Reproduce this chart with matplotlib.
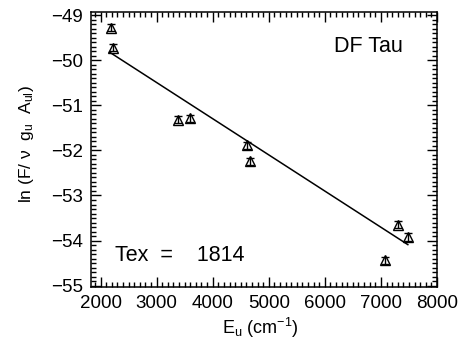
import numpy as np
import matplotlib.pyplot as plt
from matplotlib.ticker import MultipleLocator

plt.rcParams['font.family'] = ['Liberation Sans', 'DejaVu Sans']
plt.rcParams['mathtext.fontset'] = 'custom'
plt.rcParams['mathtext.rm'] = 'Liberation Sans'
plt.rcParams['mathtext.it'] = 'Liberation Sans'

# data
E_u = [2180, 2230, 3375, 3590, 4607, 4660, 7300, 7480, 7070]
lnF = [-49.28, -49.72, -51.32, -51.29, -51.89, -52.24, -53.65, -53.92, -54.44]
err = [0.08, 0.08, 0.08, 0.08, 0.08, 0.08, 0.08, 0.08, 0.08]

# fitted line end points
fit_E = [2160, 7480]
fit_lnF = [-49.82, -54.09]

source = 'DF Tau'
tex_label = 'Tex  =    1814'

fig = plt.figure(figsize=(4.61, 3.41), dpi=100)
ax = fig.add_axes([91/461, 1-287/341, (437-91)/461, (287-12)/341])

ax.errorbar(E_u, lnF, yerr=err, fmt='^', mfc='none', mec='black', ecolor='black',
            ms=7.5, mew=1.0, elinewidth=1.0, capsize=3)
ax.plot(fit_E, fit_lnF, color='black', lw=1.1)

ax.set_xlim(1830, 8000)
ax.set_ylim(-55.03, -48.93)
ax.xaxis.set_major_locator(MultipleLocator(1000))
ax.xaxis.set_minor_locator(MultipleLocator(100))
ax.yaxis.set_major_locator(MultipleLocator(1))
ax.yaxis.set_minor_locator(MultipleLocator(0.1))
ax.tick_params(which='both', direction='in', top=True, right=True, labelsize=13.5, width=1)
ax.tick_params(which='major', length=7, pad=6)
ax.tick_params(which='minor', length=3.5)
for s in ax.spines.values():
    s.set_linewidth(1.1)

ax.text(0.803, 0.873, source, transform=ax.transAxes, ha='center', va='center', fontsize=15.5)
ax.text(0.069, 0.116, tex_label, transform=ax.transAxes, ha='left', va='center', fontsize=15.5)

ax.set_xlabel(r'E$_{\rm u}$ (cm$^{-1}$)', fontsize=13)
ax.xaxis.set_label_coords(0.49, -0.105)
ax.set_ylabel(r'ln (F/ $\nu$  g$_{\rm u}$  A$_{\rm ul}$)', fontsize=12.5)
ax.yaxis.set_label_coords(-0.158, 0.52)

fig.savefig('out.png', dpi=100)
